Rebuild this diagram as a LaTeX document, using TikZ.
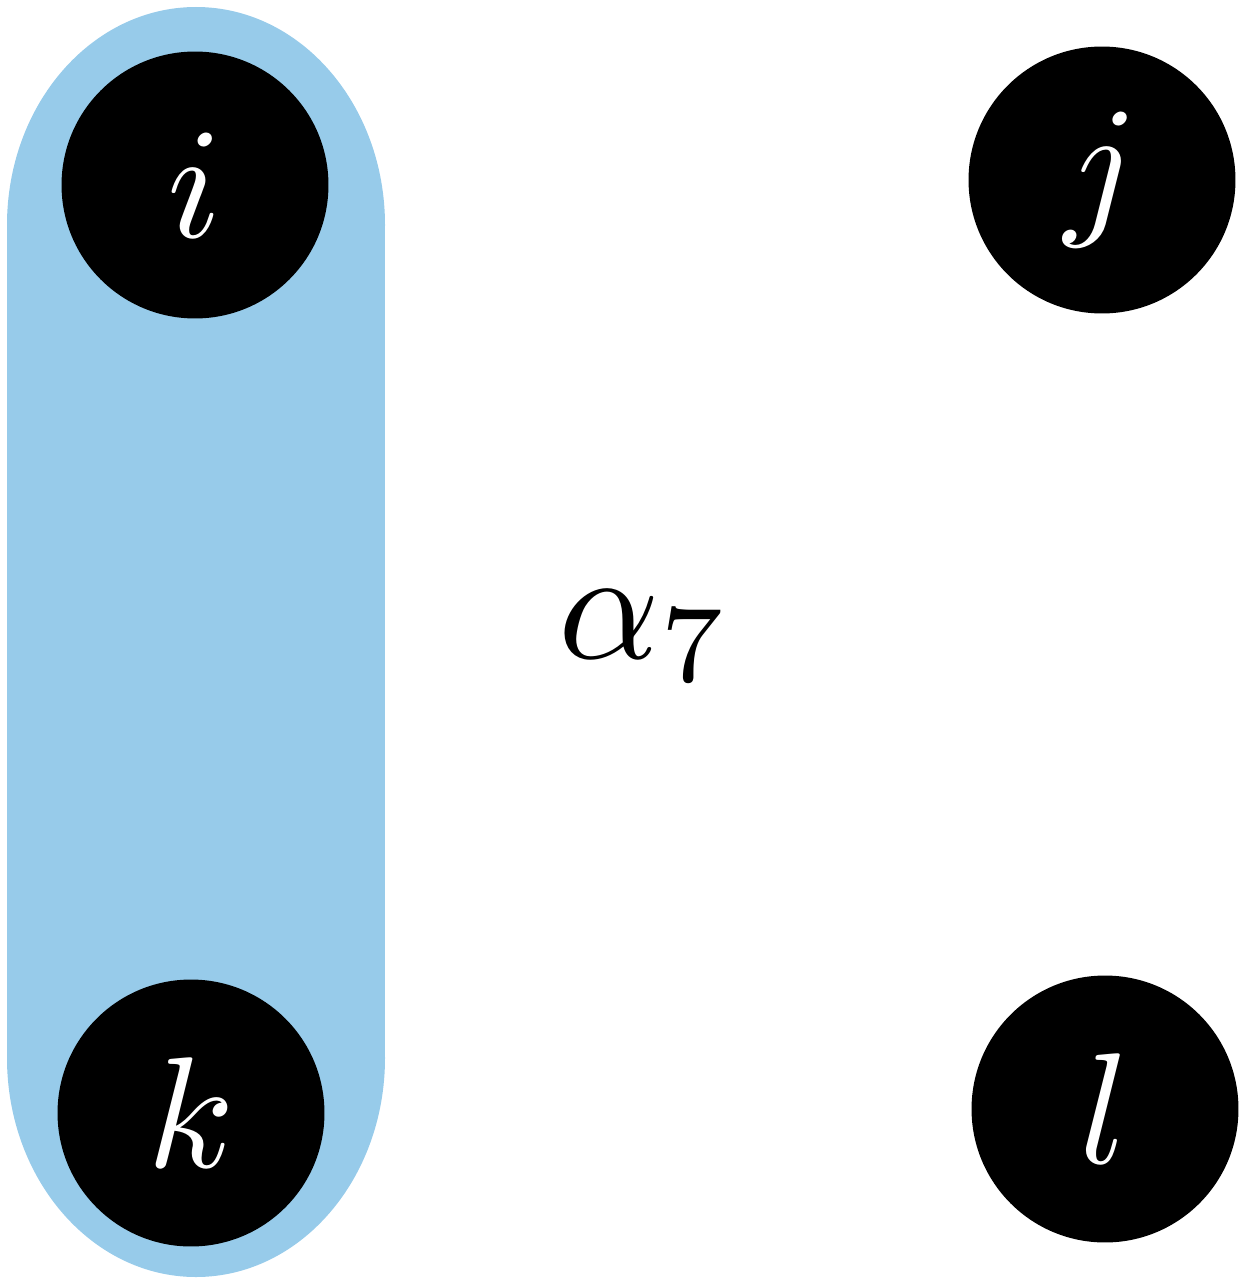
\documentclass[tikz,border=0pt]{standalone}
\usepackage{xcolor}
\usepackage{amsmath}
\usepackage{graphicx}
\usepackage{tikz}
\usetikzlibrary{calc}
\definecolor{hullblue}{HTML}{97CBEA}
\newcommand{\biglbl}[1]{\scalebox{9}{$#1$}}
\tikzset{
  vert/.style={circle, fill=black, text=white, minimum size=5.34cm, inner sep=0pt},
}
\begin{document}
\begin{tikzpicture}[x=0.02cm, y=-0.02cm]
    \useasboundingbox (0,0) rectangle (1251,1284);
    \fill[hullblue] (196,225) ellipse[x radius=189, y radius=218];
    \fill[hullblue] (196,1058) ellipse[x radius=189, y radius=219];
    \fill[hullblue] (7,225) rectangle (385,1058);
    \node[vert] (i) at (195,185) {\biglbl{i}};
    \node[vert] (j) at (1102,180) {\biglbl{j}};
    \node[vert] (k) at (191,1113) {\biglbl{k}};
    \node[vert] (l) at (1105,1109) {\biglbl{l}};
    \node (alpha) at (645,636) {\biglbl{\alpha_7}};
  \end{tikzpicture}
\end{document}
